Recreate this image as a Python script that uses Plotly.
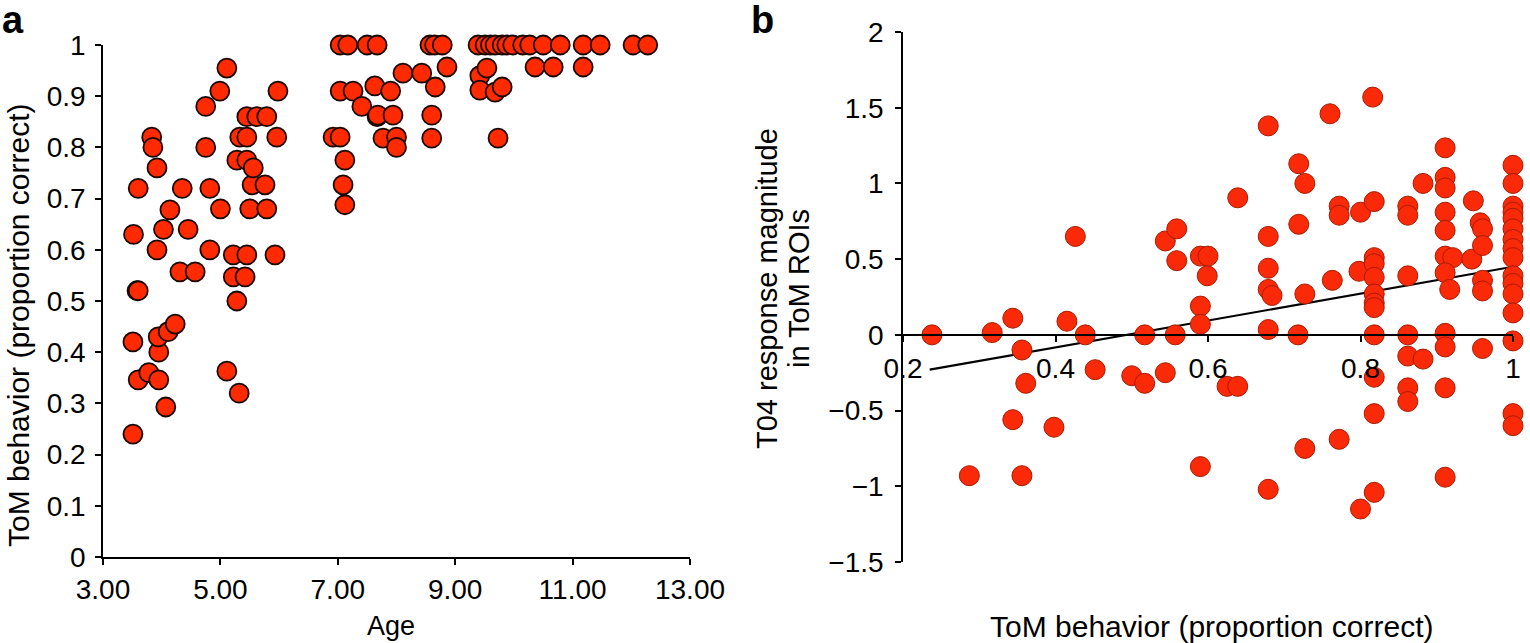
import plotly.graph_objects as go

W, H = 1530, 643

# panel a: age vs ToM behaviour
age = [3.51, 3.51, 3.52, 3.58, 3.60, 3.60, 3.60, 3.78, 3.83, 3.85,
       3.92, 3.92, 3.95, 3.94, 3.95, 4.03, 4.07, 4.11, 4.14, 4.23,
       4.31, 4.35, 4.45, 4.57, 4.75, 4.75, 4.82, 4.82, 4.99, 5.00,
       5.11, 5.11, 5.22, 5.22, 5.28, 5.28, 5.32, 5.33, 5.42, 5.45,
       5.45, 5.45, 5.45, 5.50, 5.54, 5.56, 5.62, 5.76, 5.79, 5.79,
       5.93, 5.96, 5.98,
       6.92, 7.04, 7.12, 7.09, 7.12, 7.04, 7.17, 7.50, 7.67, 7.04,
       7.26, 7.41, 7.63, 7.67, 7.90, 7.68, 7.94, 7.77, 8.00, 8.00,
       8.11, 8.43, 8.57, 8.65, 8.78, 8.60, 8.60, 8.66, 8.86,
       9.39, 9.51, 9.60, 9.68, 9.80, 9.88, 9.98, 10.15, 10.27, 10.50,
       10.79, 11.18, 11.47, 12.03, 12.28,
       9.42, 9.54, 10.36, 10.67, 11.18, 9.42, 9.68, 9.80, 9.73]
tom_a = [0.24, 0.42, 0.63, 0.52, 0.52, 0.346, 0.72, 0.36, 0.82, 0.80,
         0.76, 0.60, 0.40, 0.43, 0.346, 0.64, 0.293, 0.44, 0.678, 0.455,
         0.557, 0.72, 0.64, 0.557, 0.88, 0.80, 0.72, 0.60, 0.91, 0.68,
         0.955, 0.363, 0.59, 0.547, 0.775, 0.50, 0.32, 0.82, 0.547, 0.82,
         0.86, 0.775, 0.59, 0.68, 0.727, 0.76, 0.86, 0.727, 0.86, 0.68,
         0.59, 0.82, 0.91,
         0.82, 0.82, 0.775, 0.727, 0.688, 1.0, 1.0, 1.0, 1.0, 0.91,
         0.91, 0.88, 0.92, 0.86, 0.91, 0.863, 0.863, 0.818, 0.82, 0.80,
         0.945, 0.945, 1.0, 1.0, 1.0, 0.863, 0.818, 0.918, 0.957,
         1.0, 1.0, 1.0, 1.0, 1.0, 1.0, 1.0, 1.0, 1.0, 1.0,
         1.0, 1.0, 1.0, 1.0, 1.0,
         0.94, 0.955, 0.957, 0.957, 0.957, 0.912, 0.908, 0.918, 0.818]

# panel b: ToM behaviour vs T04 response
tom_b = [0.238, 0.287, 0.317, 0.344, 0.344, 0.356, 0.356, 0.361, 0.398, 0.415,
         0.426, 0.439, 0.452, 0.500, 0.517, 0.517, 0.544, 0.544, 0.557, 0.559,
         0.559, 0.590, 0.600, 0.599, 0.590, 0.590, 0.590, 0.625, 0.639, 0.639,
         0.679, 0.679, 0.679, 0.679, 0.684, 0.679, 0.679, 0.718, 0.719, 0.719,
         0.727, 0.727, 0.727, 0.760, 0.763, 0.772, 0.772, 0.772, 0.800, 0.798,
         0.800, 0.816, 0.818, 0.818, 0.818, 0.818, 0.818, 0.818, 0.818, 0.818,
         0.818, 0.818, 0.818, 0.862, 0.862, 0.862, 0.862, 0.862, 0.882, 0.862,
         0.862, 0.882, 0.911, 0.911, 0.911, 0.911, 0.911, 0.911, 0.921, 0.911,
         0.917, 0.911, 0.911, 0.911, 0.911, 0.946, 0.948, 0.957, 0.960, 0.960,
         0.960, 0.960, 0.960,
         1.0, 1.0, 1.0, 1.0, 1.0, 1.0, 1.0, 1.0, 1.0, 1.0, 1.0, 1.0, 1.0, 1.0, 1.0, 1.0]
t04 = [0.0, -0.93, 0.015, 0.11, -0.56, -0.10, -0.93, -0.32, -0.61, 0.09,
       0.65, 0.0, -0.23, -0.27, -0.32, 0.0, 0.62, -0.25, 0.0, 0.70,
       0.49, 0.52, 0.52, 0.39, 0.19, 0.07, -0.87, -0.34, -0.34, 0.905,
       1.38, 0.65, 0.44, 0.30, 0.26, 0.035, -1.02, 0.0, 1.13, 0.73,
       1.0, 0.27, -0.75, 1.46, 0.36, 0.85, 0.79, -0.69, 0.81, 0.42,
       -1.15, 1.57, 0.88, 0.51, 0.47, 0.38, 0.27, 0.21, 0.18, 0.0,
       -0.28, -0.52, -1.04, 0.85, 0.79, 0.39, 0.0, -0.14, -0.16, -0.35,
       -0.44, 1.0, 1.235, 1.04, 0.97, 0.81, 0.69, 0.52, 0.51, 0.41,
       0.30, 0.01, -0.08, -0.35, -0.94, 0.50, 0.885, 0.74, 0.70, 0.59,
       0.36, 0.29, -0.09,
       1.12, 1.0, 0.85, 0.81, 0.77, 0.70, 0.63, 0.57, 0.51, 0.39, 0.34, 0.27, 0.145, -0.04, -0.52, -0.60]

# fitted trend line
trend_x = [0.235, 1.0]
trend_y = [-0.23, 0.45]


def xdom(left, right):
    return [left / W, right / W]


def ydom(top, bottom):
    return [(H - bottom) / H, (H - top) / H]


def py(ypx):
    return (H - ypx) / H


FONT = "Liberation Sans, Arial, Helvetica, sans-serif"

fig = go.Figure()

fig.add_trace(go.Scatter(
    x=age, y=tom_a, mode="markers", xaxis="x", yaxis="y", cliponaxis=False,
    marker=dict(size=19, color="#FF2A00", line=dict(color="#1a0800", width=1.8)),
))
fig.add_trace(go.Scatter(
    x=trend_x, y=trend_y, mode="lines", xaxis="x2", yaxis="y2", cliponaxis=False,
    line=dict(color="black", width=2.2),
))
fig.add_trace(go.Scatter(
    x=tom_b, y=t04, mode="markers", xaxis="x2", yaxis="y2", cliponaxis=False,
    marker=dict(size=20, color="#FA2A08", line=dict(color="#A81A00", width=1)),
))

axis_common = dict(
    showline=True, linecolor="black", linewidth=1.5, showgrid=False, zeroline=False,
    ticks="outside", ticklen=6, tickwidth=1.5, tickcolor="black",
    tickfont=dict(family=FONT, size=28, color="black"), automargin=False,
)

yb_dom = ydom(32, 562)
yb_range = [-1.5, 2]
zero_pos = yb_dom[0] + (0 - yb_range[0]) / (yb_range[1] - yb_range[0]) * (yb_dom[1] - yb_dom[0])

fig.update_layout(
    width=W, height=H,
    margin=dict(l=0, r=0, t=0, b=0),
    paper_bgcolor="white", plot_bgcolor="white",
    showlegend=False,
    font=dict(family=FONT, color="black"),
    xaxis=dict(domain=xdom(103, 690), range=[3, 13], tick0=3, dtick=2,
               tickformat=".2f", anchor="y", ticklabelstandoff=1, **axis_common),
    yaxis=dict(domain=ydom(45, 557), range=[0, 1], dtick=0.1, anchor="x",
               ticklabelstandoff=4, **axis_common),
    xaxis2=dict(domain=xdom(903, 1513), range=[0.2, 1.0], dtick=0.2, tick0=0.2,
                anchor="free", position=zero_pos, ticklabelstandoff=3, **axis_common),
    yaxis2=dict(domain=yb_dom, range=yb_range, dtick=0.5, anchor="x2",
                ticklabelstandoff=6, **axis_common),
)

annotations = [
    dict(text="<b>a</b>", x=0 / W, y=py(20), xanchor="left", yanchor="middle", font_size=38),
    dict(text="<b>b</b>", x=749 / W, y=py(20), xanchor="left", yanchor="middle", font_size=38),
    dict(text="Age", x=391 / W, y=py(626), xanchor="center", yanchor="middle", font_size=27),
    dict(text="ToM behavior (proportion correct)", x=18 / W, y=py(325), textangle=-90,
         xanchor="center", yanchor="middle", font_size=30),
    dict(text="ToM behavior (proportion correct)", x=1212 / W, y=py(626),
         xanchor="center", yanchor="middle", font_size=30),
    dict(text="T04 response magnitude", x=767 / W, y=py(289), textangle=-90,
         xanchor="center", yanchor="middle", font_size=29),
    dict(text="in ToM ROIs", x=799 / W, y=py(289), textangle=-90,
         xanchor="center", yanchor="middle", font_size=29),
]
for a in annotations:
    a.update(xref="paper", yref="paper", showarrow=False)
    a["font"] = dict(family=FONT, size=a.pop("font_size"), color="black")
fig.update_layout(annotations=annotations)

fig.write_html("out.html", config={"displayModeBar": False},
               post_script="document.body.style.margin='0';document.body.style.overflow='hidden';")
